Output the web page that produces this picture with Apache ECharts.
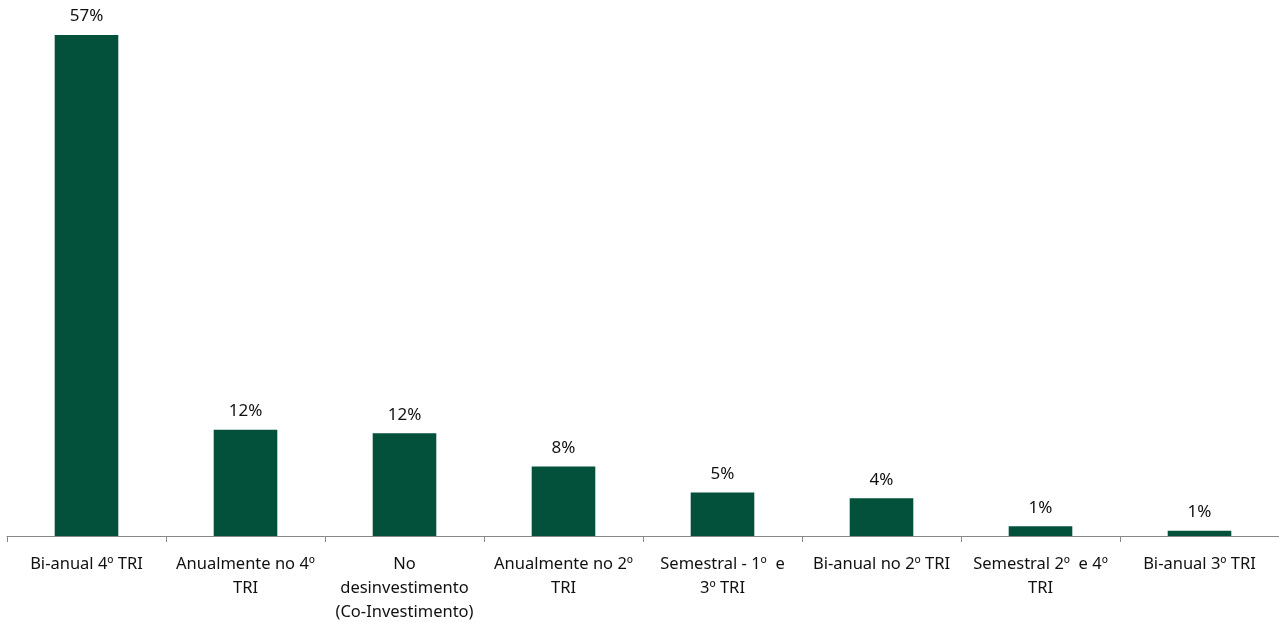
<!DOCTYPE html>
<html>
<head>
<meta charset="utf-8">
<script src="https://cdn.jsdelivr.net/npm/echarts@6/dist/echarts.min.js"></script>
<style>
  html, body { margin: 0; padding: 0; background: #fff; }
  #chart { width: 1279px; height: 622px; }
</style>
</head>
<body>
<div id="chart"></div>
<script>
var categories = [
    'Bi-anual 4º TRI',
    'Anualmente no 4º\nTRI',
    'No\ndesinvestimento\n(Co-Investimento)',
    'Anualmente no 2º\nTRI',
    'Semestral - 1º  e\n3º TRI',
    'Bi-anual no 2º TRI',
    'Semestral 2º  e 4º\nTRI',
    'Bi-anual 3º TRI'
];
var values = [57.0, 12.1, 11.7, 7.9, 4.95, 4.3, 1.1, 0.6];

var chart = echarts.init(document.getElementById('chart'));

var option = {
    animation: false,
    grid: {
        left: 7,
        right: 0,
        top: 35,
        bottom: 86,
        outerBoundsMode: 'none',
        containLabel: false
    },
    xAxis: {
        type: 'category',
        data: categories,
        axisLine: { lineStyle: { color: '#888', width: 1 } },
        axisTick: { show: true, length: 6, lineStyle: { color: '#888' } },
        axisLabel: {
            interval: 0,
            margin: 16,
            color: '#111',
            fontFamily: 'Noto Sans',
            fontSize: 16.5,
            lineHeight: 24
        }
    },
    yAxis: {
        type: 'value',
        min: 0,
        max: 57,
        show: false,
        splitLine: { show: false }
    },
    series: [
        {
            type: 'bar',
            data: values,
            barWidth: '40%',
            itemStyle: { color: '#03513B' },
            label: {
                show: true,
                position: 'top',
                distance: 10,
                color: '#111',
                fontFamily: 'Noto Sans',
                fontSize: 17,
                formatter: function (p) {
                    return Math.round(p.value) + '%';
                }
            }
        }
    ]
};

chart.setOption(option);
</script>
</body>
</html>
